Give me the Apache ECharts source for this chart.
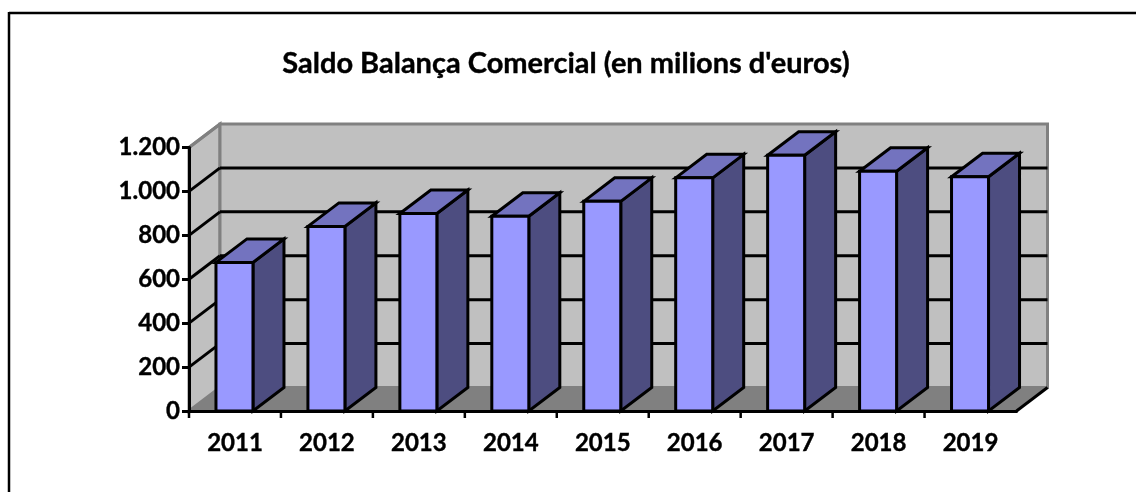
<!DOCTYPE html>
<html><head><meta charset="utf-8">
<style>html,body{margin:0;padding:0;background:#fff}#c{width:1136px;height:492px}</style>
<script src="https://cdn.jsdelivr.net/npm/echarts@6/dist/echarts.min.js"></script>
</head><body><div id="c"></div>
<script>
const titleText = "Saldo Balança Comercial (en milions d'euros)";
const years = ['2011','2012','2013','2014','2015','2016','2017','2018','2019'];
const saldo = [679,843,902,889,957,1064,1167,1094,1069];
const yTicks = [200,400,600,800,1000,1200];
const DX = 31, DY = -23.5, BAR = 37;
const FONT = 'Lato';
const chart = echarts.init(document.getElementById('c'), null, {renderer:'canvas'});
const poly = (pts, fill, stroke, lw) => ({type:'polygon', shape:{points:pts}, style:{fill, stroke, lineWidth:lw, lineJoin:'miter'}});
const line = (a, b, stroke, lw) => ({type:'line', shape:{x1:a[0],y1:a[1],x2:b[0],y2:b[1]}, style:{stroke, lineWidth:lw}});
chart.setOption({
  animation:false,
  title:{text:titleText,left:566,top:49,textAlign:'center',textStyle:{fontFamily:FONT,fontWeight:'bold',fontSize:29,color:'#000',textBorderColor:'#000',textBorderWidth:0.4},padding:[0,10,0,0]},
  grid:{left:189,right:119.5,top:147.5,bottom:81},
  xAxis:{type:'category',data:years,z:5,axisLine:{show:true,onZero:false,lineStyle:{color:'#000',width:3}},
    axisTick:{show:false},
    axisLabel:{margin:20,fontFamily:FONT,fontWeight:'bold',fontSize:24,color:'#000',textBorderColor:'#000',textBorderWidth:0.4},splitLine:{show:false}},
  yAxis:{type:'value',min:0,max:1200,interval:200,z:5,
    axisLine:{show:true,lineStyle:{color:'#000',width:3}},
    axisTick:{show:true,length:7,lineStyle:{color:'#000',width:3}},
    axisLabel:{margin:9,fontFamily:FONT,fontWeight:'bold',fontSize:24,color:'#000',textBorderColor:'#000',textBorderWidth:0.4,
      formatter:v=>String(v).replace(/\B(?=(\d{3})+$)/,'.')},
    splitLine:{show:false}},
  graphic:[
    {type:'line',silent:true,z:-1,shape:{x1:9,y1:13,x2:1136,y2:13},style:{stroke:'#000',lineWidth:2.5}},
    {type:'line',silent:true,z:-1,shape:{x1:9,y1:12,x2:9,y2:492},style:{stroke:'#000',lineWidth:2.5}}
  ],
  series:[
    {type:'custom',coordinateSystem:'cartesian2d',z:1,clip:false,data:[[0,0]],silent:true,
     renderItem(params,api){
       const g=params.coordSys, L=g.x, R=g.x+g.width, T=g.y, B=g.y+g.height;
       return {type:'group',children:[
         poly([[L,B],[L+DX,B+DY],[L+DX,T+DY],[L,T]],'#c0c0c0','#808080',3),
         poly([[L+DX,T+DY],[R+DX,T+DY],[R+DX,B+DY],[L+DX,B+DY]],'#c0c0c0','#808080',3),
         poly([[L,B],[L+DX,B+DY],[R+DX,B+DY],[R,B]],'#808080','#808080',1),
         line([R,B],[R+DX,B+DY],'#000',3)
       ]};
     }},
    {type:'custom',coordinateSystem:'cartesian2d',z:2,clip:false,data:yTicks.map(v=>[0,v]),silent:true,
     encode:{y:1},
     renderItem(params,api){
       const g=params.coordSys, y=api.coord([0,api.value(1)])[1], L=g.x, R=g.x+g.width;
       const top=api.value(1)===1200;
       return {type:'group',children:top?[line([L,y],[L+DX,y+DY],'#808080',3)]:[
         line([L,y],[L+DX,y+DY],'#000',3),
         line([L+DX,y+DY],[R+DX,y+DY],'#000',3)
       ]};
     }},
    {type:'custom',coordinateSystem:'cartesian2d',z:3,clip:false,silent:true,
     data:saldo.map((v,i)=>[i,v]),encode:{x:0,y:1},
     renderItem(params,api){
       const i=api.value(0), p=api.coord([i,api.value(1)]), b=api.coord([i,0]);
       const band=api.size([1,0])[0];
       const x0=p[0]-BAR/2-0.5, x1=x0+BAR, t=p[1]+0.5, f=b[1];
       const tx=p[0]-band/2;
       return {type:'group',children:[
         line([tx,f],[tx,f+7],'#000',2.5),
         poly([[x1,t],[x1+DX,t+DY],[x1+DX,f+DY],[x1,f]],'#4d4d80','#000',3),
         poly([[x0,t],[x0+DX,t+DY],[x1+DX,t+DY],[x1,t]],'#7373bf','#000',3),
         poly([[x0,t],[x1,t],[x1,f],[x0,f]],'#9999ff','#000',3)
       ]};
     }}
  ]
});
</script></body></html>
